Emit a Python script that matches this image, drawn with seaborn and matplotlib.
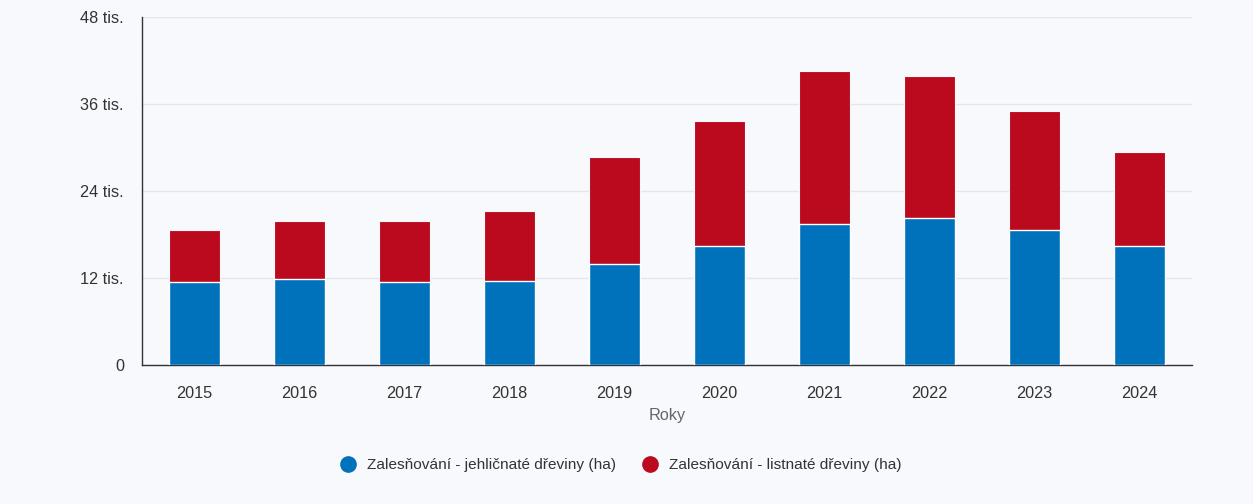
import pandas as pd
import seaborn as sns
import matplotlib.pyplot as plt
from matplotlib.lines import Line2D
from matplotlib.ticker import FuncFormatter

# Data (ha)
roky = ["2015", "2016", "2017", "2018", "2019", "2020", "2021", "2022", "2023", "2024"]
jehlicnate = [11490, 11860, 11450, 11630, 13930, 16460, 19490, 20280, 18580, 16370]
listnate = [7130, 8000, 8410, 9570, 14720, 17200, 21060, 19580, 16410, 12970]

label_jehl = "Zalesňování - jehličnaté dřeviny (ha)"
label_list = "Zalesňování - listnaté dřeviny (ha)"
c_jehl = "#0072bc"
c_list = "#bb0a1e"
bg = "#f8f9fd"

df = pd.DataFrame({"Roky": roky, "jehl": jehlicnate, "list": listnate})
df["celkem"] = df["jehl"] + df["list"]

sns.set_style("white")
plt.rcParams["font.family"] = ["Liberation Sans", "DejaVu Sans"]

fig = plt.figure(figsize=(12.53, 5.04), dpi=100, facecolor=bg)
ax = fig.add_axes([142 / 1253, 1 - 365 / 504, 1050 / 1253, 348 / 504])
ax.set_facecolor(bg)

# stacked bars: total in red, conifer part in blue on top of it
sns.barplot(data=df, x="Roky", y="celkem", color=c_list, width=0.48,
            edgecolor=bg, linewidth=0.8, saturation=1, ax=ax, zorder=3)
sns.barplot(data=df, x="Roky", y="jehl", color=c_jehl, width=0.48,
            edgecolor="white", linewidth=1.0, saturation=1, ax=ax, zorder=4)

ax.set_ylim(0, 48000)
ax.set_yticks([0, 12000, 24000, 36000, 48000])
ax.yaxis.set_major_formatter(FuncFormatter(lambda v, p: "0" if v == 0 else f"{int(v / 1000)} tis."))
ax.grid(axis="y", color="#e6e6e6", linewidth=1, zorder=0)
ax.set_axisbelow(True)

for s in ["top", "right"]:
    ax.spines[s].set_visible(False)
ax.spines["left"].set_color("#333333")
ax.spines["left"].set_linewidth(1)
ax.spines["bottom"].set_color("#333333")
ax.spines["bottom"].set_linewidth(1)

ax.tick_params(axis="both", length=0, labelsize=11.7, colors="#333333")
ax.tick_params(axis="x", pad=15)
ax.tick_params(axis="y", pad=13)
ax.set_xlabel("Roky", fontsize=11.7, color="#666666", labelpad=5)
ax.set_ylabel("")

handles = [
    Line2D([0], [0], marker="o", color="none", markerfacecolor=c_jehl,
           markeredgecolor=c_jehl, markersize=11, label=label_jehl),
    Line2D([0], [0], marker="o", color="none", markerfacecolor=c_list,
           markeredgecolor=c_list, markersize=11, label=label_list),
]
fig.legend(handles=handles, loc="center", bbox_to_anchor=((626 - 9) / 1253, 1 - 465 / 504),
           ncol=2, frameon=False, fontsize=11.1, handletextpad=0.25,
           columnspacing=1.2, labelcolor="#333333")

fig.savefig("out.png", dpi=100, facecolor=bg)
